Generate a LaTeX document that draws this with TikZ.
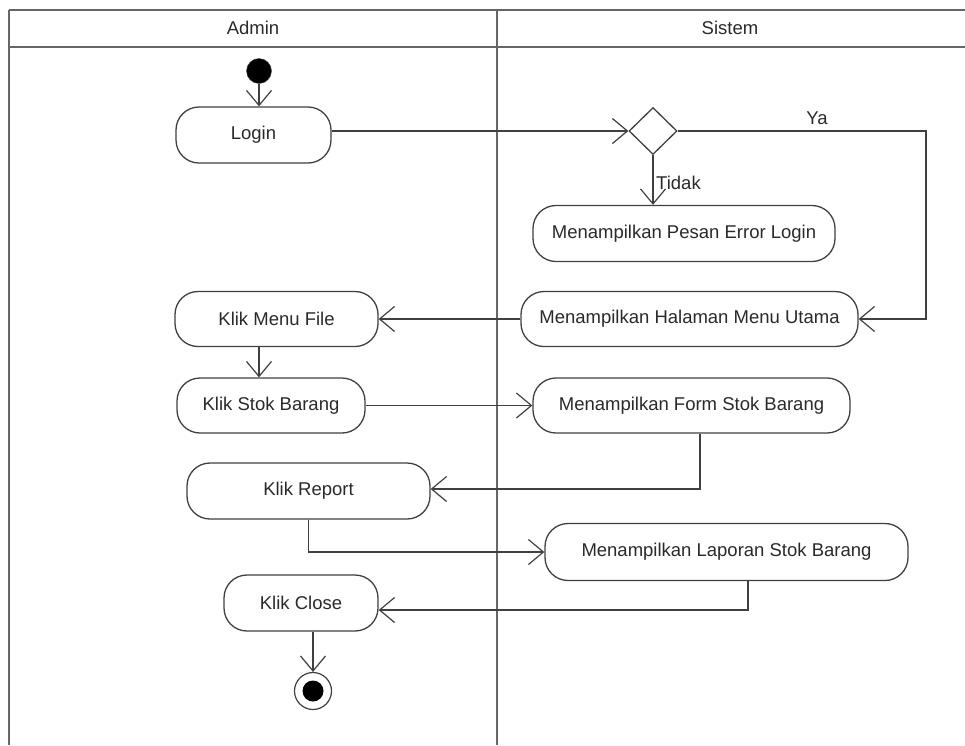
\documentclass[tikz,border=0pt]{standalone}
\usepackage{fontspec}
\setmainfont{Liberation Sans}
\usetikzlibrary{arrows.meta,shapes.geometric}
\definecolor{ln}{HTML}{404040}
\definecolor{tx}{HTML}{2a2a2a}
\begin{document}
\begin{tikzpicture}[x=1pt,y=-1pt,
  every node/.style={font=\fontsize{18.5}{21}\selectfont, text=tx},
  act/.style={draw=ln, line width=1.3pt, rounded corners=23pt, inner sep=0pt, fill=white},
  arr/.style={draw=ln, line width=1.3pt, -{Straight Barb[length=15pt,width=25pt,line width=1.2pt]}},
  lane/.style={draw=ln!80, line width=1.6pt}]
\useasboundingbox (0,0) rectangle (965,745);
% swimlanes
\draw[lane] (9,10) -- (965,10);
\draw[lane] (9,47) -- (965,47);
\draw[lane] (9,10) -- (9,745);
\draw[lane] (497,10) -- (497,745);
\node (hadmin) at (253,28) {Admin};
\node (hsis) at (730,28) {Sistem};
% nodes
\node[circle, fill=black, draw=ln, minimum size=25pt, inner sep=0pt] (start) at (259,71) {};
\node[act, minimum width=155pt, minimum height=56pt] (login) at (253.5,135) {Login};
\node[diamond, draw=ln, line width=1.3pt, minimum width=48pt, minimum height=47pt, inner sep=0pt, fill=white] (dec) at (653,131) {};
\node[act, minimum width=302pt, minimum height=56pt] (err) at (684,233.5) {Menampilkan Pesan Error Login};
\node[act, minimum width=337pt, minimum height=55pt] (hal) at (689.5,319) {Menampilkan Halaman Menu Utama};
\node[act, minimum width=203pt, minimum height=55pt] (kmf) at (276.5,319) {Klik Menu File};
\node[act, minimum width=188pt, minimum height=55pt] (kstok) at (271,405.5) {Klik Stok Barang};
\node[act, minimum width=317pt, minimum height=55pt] (form) at (691.5,405.5) {Menampilkan Form Stok Barang};
\node[act, minimum width=243pt, minimum height=56pt] (krep) at (308.5,491) {Klik Report};
\node[act, minimum width=363pt, minimum height=57pt] (lap) at (726.5,552) {Menampilkan Laporan Stok Barang};
\node[act, minimum width=154pt, minimum height=56pt] (kclose) at (301,603) {Klik Close};
\node[circle, draw=ln, line width=1.2pt, minimum size=37pt, inner sep=0pt, fill=white] (end) at (313,691) {};
\node[circle, fill=black, minimum size=21pt, inner sep=0pt] at (end) {};
% coordinates for bends
\coordinate (ya) at (926,131);
\coordinate (c1) at (700,489);
\coordinate (c2) at (748,610);
% connectors
\draw[arr] (start) -- (login.north -| start);
\draw[arr] (login.east |- dec) -- (dec.west);
\draw[arr] (dec.east) -- (ya) |- (hal.east);
\node[anchor=south] (ylab) at (817,128) {Ya};
\draw[arr] (dec.south) -- (err.north -| dec);
\node[anchor=west, inner sep=1pt] (tlab) at (655,183) {Tidak};
\draw[arr] (hal.west) -- (kmf.east);
\draw[arr] (kmf.south -| start) -- (kstok.north -| start);
\draw[arr] (kstok.east) -- (form.west);
\draw[arr] (form.south -| c1) -- (c1) -- (krep.east |- c1);
\draw[arr] (krep.south) |- (lap.west);
\draw[arr] (lap.south -| c2) -- (c2) -- (kclose.east |- c2);
\draw[arr] (kclose.south -| end) -- (end.north);
\end{tikzpicture}
\end{document}
